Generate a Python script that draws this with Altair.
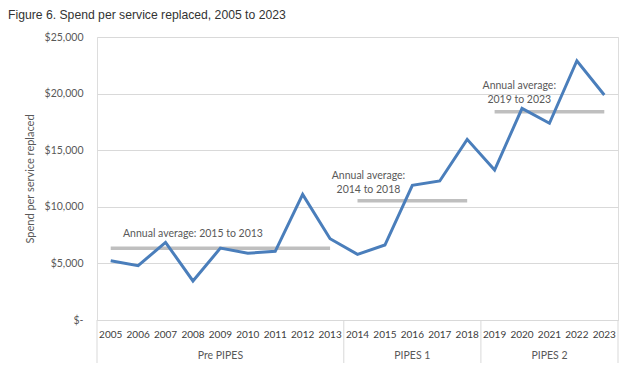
import altair as alt
import pandas as pd

years = list(range(2005, 2024))
spend = [5240, 4800, 6860, 3450, 6350, 5890, 6070, 11100, 7180,
         5800, 6625, 11900, 12280, 15960,
         13250, 18700, 17380, 22900, 19880]

avg_start = [2005, 2014, 2019]
avg_end = [2013, 2018, 2023]
avg_value = [6330, 10540, 18400]

ann_x = [2008.0, 2014.4, 2019.9]
ann_y = [7600, 12750, 20630]
ann_text = [["Annual average: 2015 to 2013"],
            ["Annual average:", "2014 to 2018"],
            ["Annual average:", "2019 to 2023"]]

groups = ["Pre PIPES", "PIPES 1", "PIPES 2"]
group_mid = [2009, 2016, 2021]
bounds = [2004.5, 2013.5, 2018.5, 2023.5]

W, H = 521, 283
FONT = "Lato"
TXT = "#595959"

df = pd.DataFrame({"year": years, "spend": spend, "label": [str(y) for y in years]})
avg_df = pd.DataFrame({"s": avg_start, "e": avg_end, "v": avg_value})
ann_df = pd.DataFrame({"x": ann_x, "y": ann_y, "t": ann_text})
grp_df = pd.DataFrame({"g": groups, "x": group_mid})
bnd_df = pd.DataFrame({"b": bounds})

xscale = alt.Scale(domain=[2004.5, 2023.5], nice=False, zero=False)
yscale = alt.Scale(domain=[0, 25000], nice=False)

xaxis = alt.Axis(title=None, grid=False, ticks=False, labels=False,
                 domain=True, domainColor="#d9d9d9")
yaxis = alt.Axis(values=[0, 5000, 10000, 15000, 20000, 25000],
                 labelExpr="datum.value == 0 ? '$-\u00a0\u00a0' : '$' + format(datum.value, ',')",
                 title="Spend per service replaced", titleFont=FONT, titleFontSize=11,
                 titleFontWeight="normal", titleColor=TXT, titleX=-67, titleY=H / 2,
                 titleAlign="center", titleBaseline="middle",
                 labelFont=FONT, labelFontSize=10.5, labelColor=TXT, labelPadding=14,
                 ticks=False, domain=False, grid=True, gridColor="#d9d9d9", gridWidth=1)

line = alt.Chart(df).mark_line(color="#4a7ebb", strokeWidth=3).encode(
    x=alt.X("year:Q", scale=xscale, axis=xaxis),
    y=alt.Y("spend:Q", scale=yscale, axis=yaxis),
)

yearlab = alt.Chart(df).mark_text(font=FONT, fontSize=10, color="#404040",
                                  baseline="middle").encode(
    x=alt.X("year:Q", scale=xscale), y=alt.value(H + 15), text="label:N"
)

avg = alt.Chart(avg_df).mark_rule(color="#bfbfbf", strokeWidth=3.5).encode(
    x=alt.X("s:Q", scale=xscale), x2="e:Q", y=alt.Y("v:Q", scale=yscale)
)

ann = alt.Chart(ann_df).mark_text(font=FONT, fontSize=10.5, color=TXT, align="center",
                                  baseline="middle", lineHeight=14).encode(
    x=alt.X("x:Q", scale=xscale), y=alt.Y("y:Q", scale=yscale), text="t"
)

grp = alt.Chart(grp_df).mark_text(font=FONT, fontSize=10.5, color=TXT, baseline="middle").encode(
    x=alt.X("x:Q", scale=xscale), y=alt.value(H + 36), text="g"
)

bnd = alt.Chart(bnd_df).mark_rule(color="#d9d9d9", strokeWidth=1).encode(
    x=alt.X("b:Q", scale=xscale), y=alt.value(0 + H), y2=alt.value(H + 43)
)

title = alt.Chart(pd.DataFrame({"t": ["Figure 6. Spend per service replaced, 2005 to 2023"]})).mark_text(
    font="Liberation Sans", fontSize=12.2, color="#333333", align="left", baseline="middle"
).encode(x=alt.value(-89), y=alt.value(-22), text="t")

chart = alt.layer(avg, line, yearlab, ann, grp, bnd, title).properties(
    width=W, height=H,
    autosize=alt.AutoSizeParams(type="none"),
    padding={"left": 97, "top": 37, "right": 9, "bottom": 56},
).configure_view(stroke=None).configure(background="white")

chart.save("out.html", embed_options={"renderer": "svg", "actions": False})
